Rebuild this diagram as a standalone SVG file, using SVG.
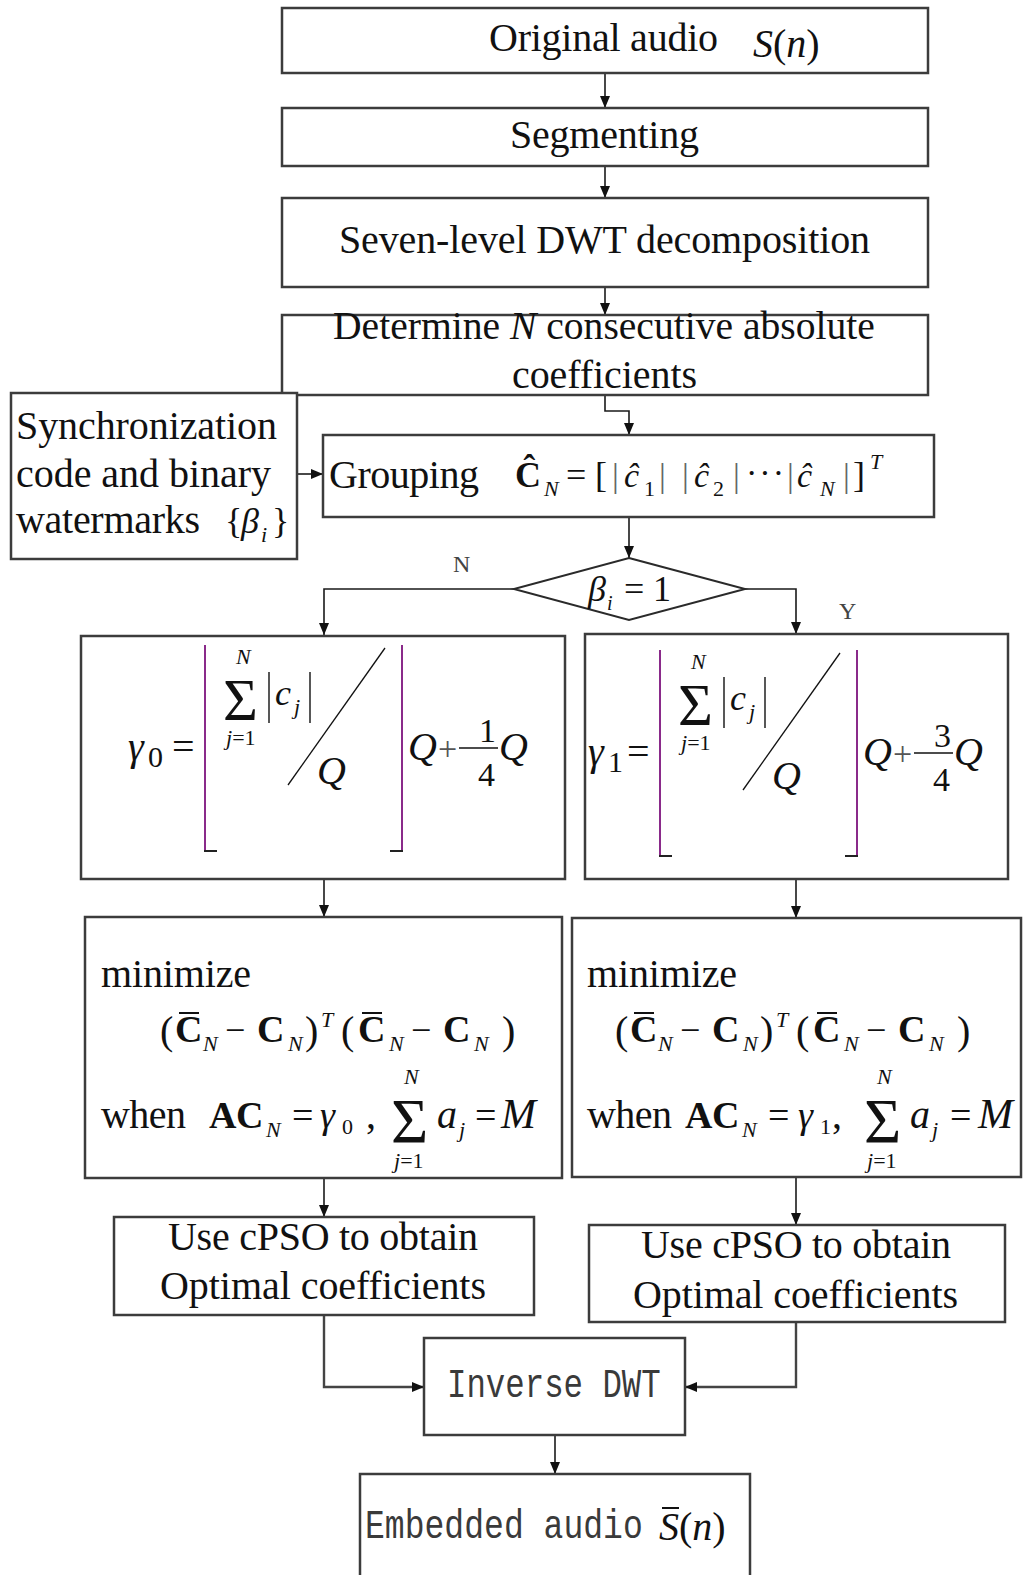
<svg xmlns="http://www.w3.org/2000/svg" width="1024" height="1575" viewBox="0 0 1024 1575">
<defs>
<style>
.box{fill:#fff;stroke:#3c3c3c;stroke-width:2.5}
.t{font-family:"Liberation Serif","Times New Roman",serif;font-size:40px;fill:#111}
.i{font-style:italic}
.b{font-weight:bold}
.s{font-size:22px}
.m{font-family:"Liberation Mono","Courier New",monospace;font-size:40px;fill:#3a3a3a}
.lbl{font-family:"Liberation Serif","Times New Roman",serif;font-size:24px;fill:#444}
.conn{stroke:#1a1a1a;stroke-width:1.6;fill:none}
.thin{stroke:#111;stroke-width:1.4;fill:none}
.fl{stroke:#8a2a8a;stroke-width:2;fill:none}
.ft{stroke:#222;stroke-width:2;fill:none}
</style>
<marker id="ah" markerWidth="12" markerHeight="12" refX="12" refY="6" orient="auto" markerUnits="userSpaceOnUse">
<path d="M0,1 L12,6 L0,11 z" fill="#111"/>
</marker>
</defs>
<rect x="0" y="0" width="1024" height="1575" fill="#fff"/>

<g id="connectors">
<line class="conn" x1="605" y1="73" x2="605" y2="108" marker-end="url(#ah)"/>
<line class="conn" x1="605" y1="166" x2="605" y2="198" marker-end="url(#ah)"/>
<line class="conn" x1="605" y1="287" x2="605" y2="315" marker-end="url(#ah)"/>
<polyline class="conn" points="605,395 605,411 629,411 629,435" marker-end="url(#ah)"/>
<line class="conn" x1="297" y1="474" x2="323" y2="474" marker-end="url(#ah)"/>
<line class="conn" x1="629" y1="517" x2="629" y2="558" marker-end="url(#ah)"/>
<polyline class="conn" points="514,589 324,589 324,635" marker-end="url(#ah)"/>
<polyline class="conn" points="745,589 796,589 796,634" marker-end="url(#ah)"/>
<line class="conn" x1="324" y1="879" x2="324" y2="917" marker-end="url(#ah)"/>
<line class="conn" x1="796" y1="879" x2="796" y2="918" marker-end="url(#ah)"/>
<line class="conn" x1="324" y1="1178" x2="324" y2="1217" marker-end="url(#ah)"/>
<line class="conn" x1="796" y1="1177" x2="796" y2="1225" marker-end="url(#ah)"/>
<polyline class="conn" style="stroke-width:2.4;stroke:#444" points="324,1315 324,1387 424,1387" marker-end="url(#ah)"/>
<polyline class="conn" style="stroke-width:2.4;stroke:#444" points="796,1322 796,1387 685,1387" marker-end="url(#ah)"/>
<line class="conn" x1="555" y1="1435" x2="555" y2="1474" marker-end="url(#ah)"/>
<text class="lbl" x="453" y="572">N</text>
<text class="lbl" x="839" y="619">Y</text>
</g>

<g id="n-original">
<rect class="box" x="282" y="8" width="646" height="65"/>
<text class="t" x="489" y="51" textLength="229">Original audio</text>
<text class="t" x="753" y="57"><tspan class="i">S</tspan>(<tspan class="i">n</tspan>)</text>
</g>

<g id="n-segmenting">
<rect class="box" x="282" y="108" width="646" height="58"/>
<text class="t" x="510" y="148" textLength="189">Segmenting</text>
</g>

<g id="n-dwt">
<rect class="box" x="282" y="198" width="646" height="89"/>
<text class="t" x="339" y="253" textLength="531">Seven-level DWT decomposition</text>
</g>

<g id="n-determine">
<rect class="box" x="282" y="315" width="646" height="80"/>
<text class="t" x="333" y="339" style="font-size:39.6px">Determine <tspan class="i">N</tspan> consecutive absolute</text>
<text class="t" x="512" y="388" textLength="185">coefficients</text>
</g>

<g id="n-sync">
<rect class="box" x="11" y="393" width="286" height="166"/>
<text class="t" x="16" y="439" textLength="261">Synchronization</text>
<text class="t" x="16" y="487" textLength="255">code and binary</text>
<text class="t" x="16" y="533" textLength="184">watermarks</text>
<text class="t" x="225" y="533" style="font-size:36px">{</text>
<text class="t i" x="241" y="533" style="font-size:36px">β</text>
<text class="t i s" x="261" y="542">i</text>
<text class="t" x="272" y="533" style="font-size:36px">}</text>
</g>

<g id="n-grouping">
<rect class="box" x="323" y="435" width="611" height="82"/>
<text class="t" x="329" y="488" textLength="150">Grouping</text>
<text class="t b" x="515" y="487" style="font-size:36px">Ĉ</text>
<text class="t i s" x="544" y="496">N</text>
<text class="t" x="566" y="487" style="font-size:36px">=</text>
<text class="t" x="595" y="487" style="font-size:36px">[</text>
<text class="t" x="612" y="487" style="font-size:34px;fill:#666">|</text>
<text class="t i" x="624" y="487" style="font-size:34px">ĉ</text>
<text class="t s" x="644" y="496">1</text>
<text class="t" x="659" y="487" style="font-size:34px;fill:#666">|</text>
<text class="t" x="682" y="487" style="font-size:34px;fill:#666">|</text>
<text class="t i" x="694" y="487" style="font-size:34px">ĉ</text>
<text class="t s" x="713" y="496">2</text>
<text class="t" x="733" y="487" style="font-size:34px;fill:#666">|</text>
<text class="t" x="746" y="484" style="font-size:34px;letter-spacing:2px">···</text>
<text class="t" x="787" y="487" style="font-size:34px;fill:#666">|</text>
<text class="t i" x="797" y="487" style="font-size:34px">ĉ</text>
<text class="t i s" x="820" y="496">N</text>
<text class="t" x="843" y="487" style="font-size:34px;fill:#666">|</text>
<text class="t" x="853" y="487" style="font-size:36px">]</text>
<text class="t i s" x="870" y="469">T</text>
</g>

<g id="n-decision">
<polygon points="629,558 745,589 629,620 514,589" fill="#fff" stroke="#2a2a2a" stroke-width="2"/>
<text class="t i" x="588" y="601" style="font-size:36px">β</text>
<text class="t i" x="607" y="610" style="font-size:20px">i</text>
<text class="t" x="624" y="601" style="font-size:36px">=</text>
<text class="t" x="653" y="601" style="font-size:36px">1</text>
</g>

<g id="n-gamma0">
<rect class="box" x="81" y="636" width="484" height="243"/>
<text class="t i" x="128" y="760">γ</text>
<text class="t" x="148" y="767" style="font-size:30px">0</text>
<text class="t" x="172" y="760">=</text>
<line class="fl" x1="205" y1="645" x2="205" y2="851"/>
<line class="ft" x1="204" y1="851" x2="217" y2="851"/>
<text class="t" x="223" y="720" style="font-size:60px">Σ</text>
<text class="t i s" x="236" y="664">N</text>
<text class="t s" x="226" y="745"><tspan class="i">j</tspan>=1</text>
<line class="thin" x1="269" y1="672" x2="269" y2="723"/>
<text class="t i" x="275" y="705" style="font-size:36px">c</text>
<text class="t i s" x="294" y="714">j</text>
<line class="thin" x1="310" y1="672" x2="310" y2="723"/>
<line class="thin" style="stroke-width:1.3" x1="385" y1="648" x2="288" y2="785"/>
<text class="t i" x="317" y="784">Q</text>
<line class="fl" x1="402" y1="645" x2="402" y2="851"/>
<line class="ft" x1="390" y1="851" x2="403" y2="851"/>
<text class="t i" x="408" y="760">Q</text>
<text class="t" x="438" y="760" style="font-size:34px;fill:#555">+</text>
<line class="thin" x1="459" y1="748" x2="498" y2="748"/>
<text class="t" x="479" y="742" style="font-size:34px">1</text>
<text class="t" x="478" y="786" style="font-size:34px">4</text>
<text class="t i" x="499" y="760">Q</text>
</g>

<g id="n-gamma1">
<rect class="box" x="585" y="634" width="423" height="245"/>
<g transform="translate(455,5)">
<text class="t i" x="133" y="760">γ</text>
<text class="t" x="153" y="767" style="font-size:30px">1</text>
<text class="t" x="172" y="760">=</text>
<line class="fl" x1="205" y1="645" x2="205" y2="851"/>
<line class="ft" x1="204" y1="851" x2="217" y2="851"/>
<text class="t" x="223" y="720" style="font-size:60px">Σ</text>
<text class="t i s" x="236" y="664">N</text>
<text class="t s" x="226" y="745"><tspan class="i">j</tspan>=1</text>
<line class="thin" x1="269" y1="672" x2="269" y2="723"/>
<text class="t i" x="275" y="705" style="font-size:36px">c</text>
<text class="t i s" x="294" y="714">j</text>
<line class="thin" x1="310" y1="672" x2="310" y2="723"/>
<line class="thin" style="stroke-width:1.3" x1="385" y1="648" x2="288" y2="785"/>
<text class="t i" x="317" y="784">Q</text>
<line class="fl" x1="402" y1="645" x2="402" y2="851"/>
<line class="ft" x1="390" y1="851" x2="403" y2="851"/>
<text class="t i" x="408" y="760">Q</text>
<text class="t" x="438" y="760" style="font-size:34px;fill:#555">+</text>
<line class="thin" x1="459" y1="748" x2="498" y2="748"/>
<text class="t" x="479" y="742" style="font-size:34px">3</text>
<text class="t" x="478" y="786" style="font-size:34px">4</text>
<text class="t i" x="499" y="760">Q</text>
</g>
</g>

<g id="n-min0">
<rect class="box" x="85" y="917" width="477" height="261"/>
<text class="t" x="101" y="987" textLength="150">minimize</text>
<text class="t" x="160" y="1044">(</text>
<text class="t b" x="175" y="1042" style="font-size:38px">C</text>
<line class="thin" style="stroke-width:2" x1="179" y1="1013" x2="199" y2="1013"/>
<text class="t i s" x="203" y="1051">N</text>
<text class="t" x="225" y="1042" style="font-size:36px">−</text>
<text class="t b" x="257" y="1042" style="font-size:38px">C</text>
<text class="t i s" x="288" y="1051">N</text>
<text class="t" x="305" y="1044">)</text>
<text class="t i s" x="321" y="1027">T</text>
<text class="t" x="341" y="1044">(</text>
<text class="t b" x="358" y="1042" style="font-size:38px">C</text>
<line class="thin" style="stroke-width:2" x1="362" y1="1013" x2="382" y2="1013"/>
<text class="t i s" x="389" y="1051">N</text>
<text class="t" x="411" y="1042" style="font-size:36px">−</text>
<text class="t b" x="443" y="1042" style="font-size:38px">C</text>
<text class="t i s" x="474" y="1051">N</text>
<text class="t" x="502" y="1044">)</text>
<text class="t" x="101" y="1128" textLength="85">when</text>
<text class="t b" x="209" y="1128" style="font-size:38px">A</text>
<text class="t b" x="236" y="1128" style="font-size:38px">C</text>
<text class="t i s" x="266" y="1137">N</text>
<text class="t" x="292" y="1128" style="font-size:38px">=</text>
<text class="t i" x="320" y="1128" style="font-size:38px">γ</text>
<text class="t s" x="342" y="1134">0</text>
<text class="t" x="366" y="1128">,</text>
<text class="t" x="391" y="1143" style="font-size:64px">Σ</text>
<text class="t i s" x="404" y="1084">N</text>
<text class="t s" x="394" y="1168"><tspan class="i">j</tspan>=1</text>
<text class="t i" x="437" y="1128">a</text>
<text class="t i s" x="459" y="1137">j</text>
<text class="t" x="475" y="1128" style="font-size:38px">=</text>
<text class="t i" x="501" y="1128" style="font-size:42px">M</text>
</g>

<g id="n-min1">
<rect class="box" x="572" y="918" width="449" height="259"/>
<text class="t" x="587" y="987" textLength="150">minimize</text>
<text class="t" x="615" y="1044">(</text>
<text class="t b" x="630" y="1042" style="font-size:38px">C</text>
<line class="thin" style="stroke-width:2" x1="634" y1="1013" x2="654" y2="1013"/>
<text class="t i s" x="658" y="1051">N</text>
<text class="t" x="680" y="1042" style="font-size:36px">−</text>
<text class="t b" x="712" y="1042" style="font-size:38px">C</text>
<text class="t i s" x="743" y="1051">N</text>
<text class="t" x="760" y="1044">)</text>
<text class="t i s" x="776" y="1027">T</text>
<text class="t" x="796" y="1044">(</text>
<text class="t b" x="813" y="1042" style="font-size:38px">C</text>
<line class="thin" style="stroke-width:2" x1="817" y1="1013" x2="837" y2="1013"/>
<text class="t i s" x="844" y="1051">N</text>
<text class="t" x="866" y="1042" style="font-size:36px">−</text>
<text class="t b" x="898" y="1042" style="font-size:38px">C</text>
<text class="t i s" x="929" y="1051">N</text>
<text class="t" x="957" y="1044">)</text>
<text class="t" x="587" y="1128" textLength="85">when</text>
<text class="t b" x="685" y="1128" style="font-size:38px">A</text>
<text class="t b" x="712" y="1128" style="font-size:38px">C</text>
<text class="t i s" x="742" y="1137">N</text>
<text class="t" x="768" y="1128" style="font-size:38px">=</text>
<text class="t i" x="798" y="1128" style="font-size:38px">γ</text>
<text class="t s" x="820" y="1134">1</text>
<text class="t" x="832" y="1128">,</text>
<text class="t" x="864" y="1143" style="font-size:64px">Σ</text>
<text class="t i s" x="877" y="1084">N</text>
<text class="t s" x="867" y="1168"><tspan class="i">j</tspan>=1</text>
<text class="t i" x="910" y="1128">a</text>
<text class="t i s" x="932" y="1137">j</text>
<text class="t" x="950" y="1128" style="font-size:38px">=</text>
<text class="t i" x="978" y="1128" style="font-size:42px">M</text>
</g>

<g id="n-cpso0">
<rect class="box" x="114" y="1217" width="420" height="98"/>
<text class="t" x="168" y="1250" textLength="310">Use cPSO to obtain</text>
<text class="t" x="160" y="1299" textLength="326">Optimal coefficients</text>
</g>

<g id="n-cpso1">
<rect class="box" x="589" y="1225" width="416" height="97"/>
<text class="t" x="641" y="1258" textLength="310">Use cPSO to obtain</text>
<text class="t" x="633" y="1308" textLength="325">Optimal coefficients</text>
</g>

<g id="n-inverse">
<rect class="box" x="424" y="1338" width="261" height="97"/>
<text class="m" transform="translate(447,1397) scale(0.81,1)" x="0" y="0">Inverse DWT</text>
</g>

<g id="n-embedded">
<rect class="box" x="360" y="1474" width="390" height="130"/>
<text class="m" transform="translate(365,1538) scale(0.827,1)" x="0" y="0">Embedded audio</text>
<line class="thin" style="stroke-width:2" x1="662" y1="1508" x2="679" y2="1508"/>
<text class="t" x="659" y="1540"><tspan class="i">S</tspan>(<tspan class="i">n</tspan>)</text>
</g>
</svg>
